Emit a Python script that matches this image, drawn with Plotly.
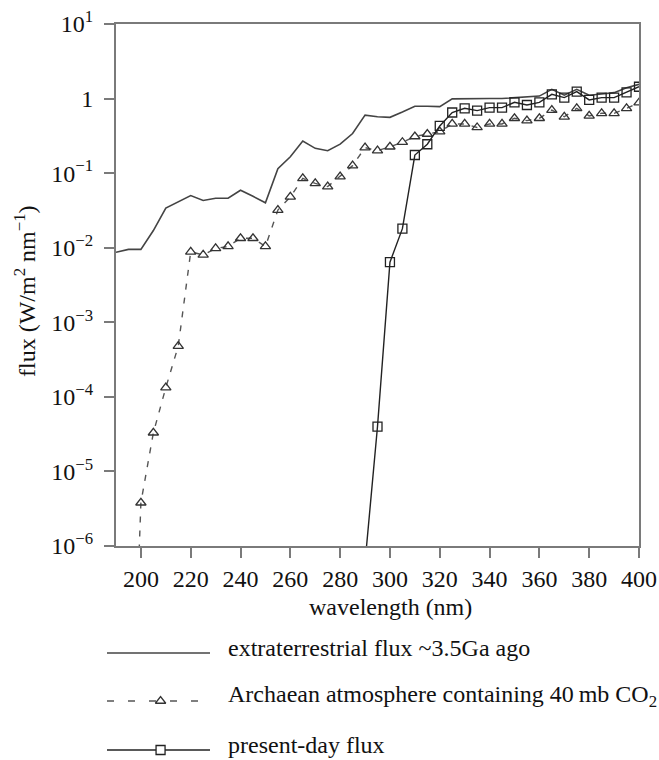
import plotly.graph_objects as go

# ---------------- data ----------------
wl_ext = [190, 195, 200, 205, 210, 215, 220, 225, 230, 235, 240, 245, 250, 255, 260,
          265, 270, 275, 280, 285, 290, 295, 300, 305, 310, 315, 320, 325, 330, 335,
          340, 345, 350, 355, 360, 365, 370, 375, 380, 385, 390, 395, 400]
flux_ext = [0.0087, 0.0095, 0.0095, 0.017, 0.034, 0.041, 0.050, 0.043, 0.046, 0.046,
            0.059, 0.049, 0.040, 0.115, 0.166, 0.27, 0.215, 0.20, 0.245, 0.34,
            0.60, 0.57, 0.56, 0.66, 0.79, 0.79, 0.78, 0.99, 1.0, 1.0,
            1.0, 1.0, 1.02, 1.05, 1.08, 1.33, 1.11, 1.33, 1.11, 1.15,
            1.2, 1.4, 1.55]

wl_arch = [195, 200, 205, 210, 215, 220, 225, 230, 235, 240, 245, 250, 255, 260, 265,
           270, 275, 280, 285, 290, 295, 300, 305, 310, 315, 320, 325, 330, 335, 340,
           345, 350, 355, 360, 365, 370, 375, 380, 385, 390, 395, 400]
flux_arch = [1e-10, 3.8e-6, 3.3e-5, 1.33e-4, 4.8e-4, 0.0088, 0.0080, 0.0098, 0.0104, 0.0134,
             0.0134, 0.0104, 0.032, 0.048, 0.085, 0.073, 0.066, 0.090, 0.126, 0.22,
             0.20, 0.226, 0.26, 0.31, 0.335, 0.36, 0.457, 0.457, 0.41, 0.457,
             0.457, 0.545, 0.506, 0.545, 0.70, 0.57, 0.74, 0.585, 0.635, 0.635,
             0.74, 0.88]

wl_now = [290, 295, 300, 305, 310, 315, 320, 325, 330, 335, 340, 345, 350, 355, 360,
          365, 370, 375, 380, 385, 390, 395, 400]
flux_now = [6e-7, 4.0e-5, 6.4e-3, 0.018, 0.175, 0.244, 0.43, 0.65, 0.74, 0.69,
            0.755, 0.755, 0.89, 0.82, 0.89, 1.14, 1.03, 1.24, 0.96, 1.03,
            1.03, 1.21, 1.44]

x_ticks = [200, 220, 240, 260, 280, 300, 320, 340, 360, 380, 400]
y_tickvals = [1e1, 1, 1e-1, 1e-2, 1e-3, 1e-4, 1e-5, 1e-6]
y_ticktext = ["10<sup>1</sup>", "1", "10<sup>\u22121</sup>", "10<sup>\u22122</sup>",
              "10<sup>\u22123</sup>", "10<sup>\u22124</sup>", "10<sup>\u22125</sup>",
              "10<sup>\u22126</sup>"]

legend_names = ["extraterrestrial flux ~3.5Ga ago",
                "Archaean atmosphere containing 40\u2009mb CO<sub>2</sub>",
                "present-day flux"]
legend_rows = [653, 701, 750]          # legend row centres (px from top)
legend_sample_x = [0, 1]               # sample line span in legend axis units
legend_marker_x = [0.52]

# ---------------- layout geometry (px) ----------------
W, H = 659, 760
PL, PR, PT, PB = 116, 639, 24, 546      # plot area
LX0, LX1, LTXT = 107, 210, 226          # legend sample start/end, text start
LEG_TOP = 630
TEXT_SHIFT = 5                          # legend text sits slightly above its line centre


def px(xp):
    return xp / W


def py(yp):
    return (H - yp) / H


FONT = "Liberation Serif, Times New Roman, serif"
AX = "#7a7a7a"
TXT = "#111111"
C_EXT, C_ARCH, C_NOW = "#444444", "#555555", "#222222"
DASH = "6px,8px"
DASH_LEG = "7px,14px"

fig = go.Figure()
fig.add_trace(go.Scatter(
    x=wl_ext, y=flux_ext, mode="lines", showlegend=False,
    line=dict(color=C_EXT, width=1.6)))
fig.add_trace(go.Scatter(
    x=wl_arch, y=flux_arch, mode="lines+markers", showlegend=False,
    line=dict(color=C_ARCH, width=1.4, dash=DASH),
    marker=dict(symbol="triangle-up-open", size=9, color="#333333",
                line=dict(width=1.3, color="#333333"))))
fig.add_trace(go.Scatter(
    x=wl_now, y=flux_now, mode="lines+markers", showlegend=False,
    line=dict(color=C_NOW, width=1.4),
    marker=dict(symbol="square-open", size=9, color=C_NOW,
                line=dict(width=1.3, color=C_NOW))))

# ---------------- hand-built legend (samples on a hidden axis pair) ----------------
leg_kw = dict(xaxis="x2", yaxis="y2", showlegend=False, hoverinfo="skip", cliponaxis=False)
fig.add_trace(go.Scatter(x=legend_sample_x, y=[legend_rows[0]] * 2, mode="lines",
                         line=dict(color=C_EXT, width=1.6), **leg_kw))
fig.add_trace(go.Scatter(x=legend_sample_x, y=[legend_rows[1]] * 2, mode="lines",
                         line=dict(color=C_ARCH, width=1.4, dash=DASH_LEG), **leg_kw))
fig.add_trace(go.Scatter(x=legend_marker_x, y=[legend_rows[1]], mode="markers",
                         marker=dict(symbol="triangle-up-open", size=9, color="#333333",
                                     line=dict(width=1.3, color="#333333")), **leg_kw))
fig.add_trace(go.Scatter(x=legend_sample_x, y=[legend_rows[2]] * 2, mode="lines",
                         line=dict(color=C_NOW, width=1.4), **leg_kw))
fig.add_trace(go.Scatter(x=legend_marker_x, y=[legend_rows[2]], mode="markers",
                         marker=dict(symbol="square", size=9, color="white",
                                     line=dict(width=1.3, color=C_NOW)), **leg_kw))

annotations = []
for name, row in zip(legend_names, legend_rows):
    annotations.append(dict(
        text=name, xref="paper", yref="paper", x=px(LTXT), y=py(row - TEXT_SHIFT),
        xanchor="left", yanchor="middle", showarrow=False,
        font=dict(family=FONT, size=24, color=TXT)))
# axis titles
annotations.append(dict(
    text="wavelength (nm)", xref="paper", yref="paper", x=px(390.5), y=py(607),
    xanchor="center", yanchor="middle", showarrow=False,
    font=dict(family=FONT, size=24, color=TXT)))
annotations.append(dict(
    text="flux (W/m<sup>2</sup> nm<sup>\u22121</sup>)", xref="paper", yref="paper",
    x=px(25), y=py(291), textangle=-90,
    xanchor="center", yanchor="middle", showarrow=False,
    font=dict(family=FONT, size=24, color=TXT)))

fig.update_layout(
    width=W, height=H,
    margin=dict(l=0, r=0, t=0, b=0),
    paper_bgcolor="white", plot_bgcolor="white",
    font=dict(family=FONT, size=24, color=TXT),
    showlegend=False,
    annotations=annotations,
    xaxis=dict(
        domain=[px(PL), px(PR)], anchor="y", automargin=False,
        range=[190, 400], tickvals=x_ticks, ticks="outside", ticklen=10,
        tickwidth=2, tickcolor=AX, showline=True, linecolor=AX, linewidth=2,
        mirror=True, showgrid=False, zeroline=False, ticklabeloverflow="allow",
        tickfont=dict(family=FONT, size=24, color=TXT)),
    yaxis=dict(
        domain=[py(PB), py(PT)], anchor="x", automargin=False,
        type="log", range=[-6, 1], tickvals=y_tickvals, ticktext=y_ticktext,
        ticks="outside", ticklen=10, tickwidth=2, tickcolor=AX,
        showline=True, linecolor=AX, linewidth=2, mirror=True,
        showgrid=False, zeroline=False, ticklabelstandoff=6, ticklabeloverflow="allow",
        tickfont=dict(family=FONT, size=24, color=TXT)),
    xaxis2=dict(domain=[px(LX0), px(LX1)], anchor="y2", range=[0, 1],
                visible=False, fixedrange=True),
    yaxis2=dict(domain=[0, py(LEG_TOP)], anchor="x2", range=[H, LEG_TOP],
                autorange=False, visible=False, fixedrange=True),
)

fig.write_html("out.html",
               config={"displayModeBar": False},
               post_script="document.body.style.margin='0';"
                           "document.body.style.overflow='hidden';")
